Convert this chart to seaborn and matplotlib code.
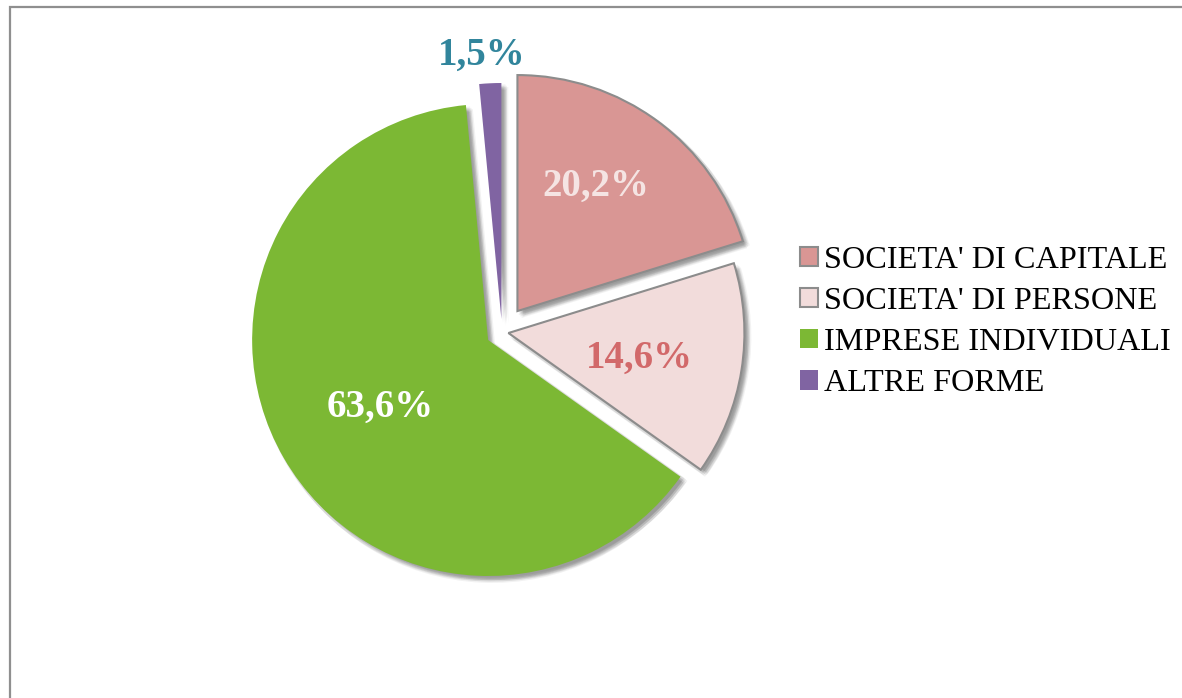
import matplotlib

matplotlib.use("Agg")
import matplotlib.patheffects as pe
import matplotlib.pyplot as plt
import numpy as np
import seaborn as sns

# dati del grafico
categories = [
    "SOCIETA' DI CAPITALE",
    "SOCIETA' DI PERSONE",
    "IMPRESE INDIVIDUALI",
    "ALTRE FORME",
]
shares = [20.2, 14.6, 63.6, 1.5]

slice_colors = ["#D99694", "#F2DCDB", "#7CB834", "#8064A2"]
label_colors = ["#F5E4E3", "#D2696A", "#FFFFFF", "#31859C"]
edge_colors = ["#8C8C8C", "#8C8C8C", "none", "none"]
# spostamento delle fette (in pixel, il raggio e' 236)
explode = [26, 6.5, 16, 13]
# posizione delle etichette: distanza (frazione del raggio) e rotazione (gradi)
label_dist = [0.64, 0.56, 0.53, 1.14]
label_turn = [5, 0, 0, 1.5]

sns.set_theme(style="white")
plt.rcParams["font.family"] = ["Liberation Serif", "DejaVu Serif"]
plt.rcParams["text.color"] = "black"

fig = plt.figure(figsize=(11.82, 6.98), dpi=100)
ax = fig.add_axes([0, 0, 1, 1])

wedges, _ = ax.pie(
    shares,
    colors=slice_colors,
    explode=explode,
    startangle=90,
    counterclock=False,
    radius=236,
    center=(502, 366),
    wedgeprops={"linewidth": 0},
)
ax.set_xlim(0, 1182)
ax.set_ylim(0, 698)
ax.axis("off")

# ombra morbida sotto le fette
offsets = [(2, -2), (3, -3), (4, -4), (2, -4), (4, -2), (3, -5), (5, -3), (1, -3), (3, -1)]
shadow_fx = [
    pe.SimplePatchShadow(offset=o, shadow_rgbFace="black", alpha=0.05) for o in offsets
] + [pe.Normal()]

for w, ec in zip(wedges, edge_colors):
    w.set_edgecolor(ec)
    w.set_linewidth(1.5 if ec != "none" else 0)
    w.set_path_effects(shadow_fx)

for w, v, d, turn, col in zip(wedges, shares, label_dist, label_turn, label_colors):
    theta = np.deg2rad((w.theta1 + w.theta2) / 2 + turn)
    x = w.center[0] + d * w.r * np.cos(theta)
    y = w.center[1] + d * w.r * np.sin(theta)
    ax.text(
        x,
        y,
        f"{v:.1f}%".replace(".", ","),
        ha="center",
        va="center_baseline",
        fontsize=28,
        fontweight="bold",
        color=col,
    )

leg = ax.legend(
    wedges,
    categories,
    loc="upper left",
    bbox_to_anchor=(0.677, 0.648),
    bbox_transform=fig.transFigure,
    frameon=False,
    fontsize=23.2,
    handlelength=0.55,
    handleheight=0.55,
    handletextpad=0.2,
    labelspacing=0.38,
    borderpad=0,
    borderaxespad=0,
)
for h in leg.legend_handles:
    h.set_path_effects([pe.Normal()])
for t in leg.get_texts():
    t.set_color("black")

# cornice grigia del grafico
fig.add_artist(
    plt.Rectangle(
        (10 / 1182, -0.05),
        1.2,
        1 - 7 / 698 + 0.05,
        transform=fig.transFigure,
        fill=False,
        edgecolor="#8F8F8F",
        linewidth=1.6,
    )
)

fig.savefig("out.png", dpi=100)
